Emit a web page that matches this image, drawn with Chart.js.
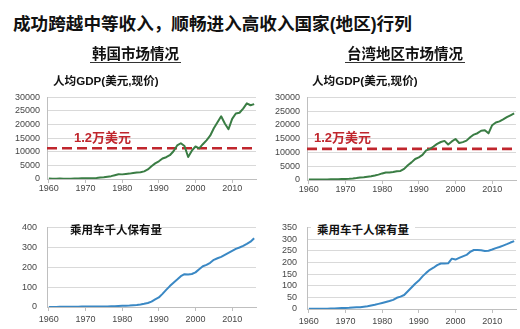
<!DOCTYPE html>
<html><head><meta charset="utf-8">
<script src="https://cdn.jsdelivr.net/npm/chart.js@4.4.1/dist/chart.umd.min.js"></script>
<style>
html,body{margin:0;padding:0;background:#fff;width:520px;height:329px;overflow:hidden;}
body{position:relative;}
canvas{position:absolute;}
.t{position:absolute;white-space:nowrap;font-family:"Liberation Sans","Noto Sans CJK SC",sans-serif;font-weight:bold;color:#111;}
.u{position:absolute;height:1px;background:#333;}
</style></head><body>
<canvas id="c1" width="260" height="110" style="left:0;top:85px"></canvas>
<canvas id="c2" width="260" height="110" style="left:260px;top:85px"></canvas>
<canvas id="c3" width="260" height="117" style="left:0;top:212px"></canvas>
<canvas id="c4" width="260" height="117" style="left:260px;top:212px"></canvas>

<div class="t" style="left:13px;top:12px;font-size:17.6px;line-height:24px;">成功跨越中等收入，顺畅进入高收入国家(地区)行列</div>
<div class="t" style="left:92px;top:45px;font-size:14.5px;line-height:18px;">韩国市场情况</div>
<div class="u" style="left:90px;top:62px;width:91px;"></div>
<div class="t" style="left:347px;top:45px;font-size:14.5px;line-height:18px;">台湾地区市场情况</div>
<div class="u" style="left:345px;top:62px;width:120px;"></div>

<div class="t" style="left:53px;top:74px;font-size:11.6px;line-height:14px;">人均GDP(美元,现价)</div>
<div class="t" style="left:312px;top:74px;font-size:11.6px;line-height:14px;">人均GDP(美元,现价)</div>
<div class="t" style="left:74px;top:130px;font-size:13px;line-height:16px;color:#c0262d;">1.2万美元</div>
<div class="t" style="left:314px;top:130px;font-size:13px;line-height:16px;color:#c0262d;">1.2万美元</div>
<div class="t" style="left:70px;top:223px;font-size:11.5px;line-height:14px;">乘用车千人保有量</div>
<div class="t" style="left:311px;top:223px;font-size:11.5px;line-height:14px;background:#fff;padding:0 6px;">乘用车千人保有量</div>

<script>
const years = [1960,1961,1962,1963,1964,1965,1966,1967,1968,1969,
  1970,1971,1972,1973,1974,1975,1976,1977,1978,1979,
  1980,1981,1982,1983,1984,1985,1986,1987,1988,1989,
  1990,1991,1992,1993,1994,1995,1996,1997,1998,1999,
  2000,2001,2002,2003,2004,2005,2006,2007,2008,2009,
  2010,2011,2012,2013,2014,2015,2016];
const xTicks = [1960,1970,1980,1990,2000,2010];
const gdpTicks = [0,5000,10000,15000,20000,25000,30000];
const koreaCarTicks = [0,100,200,300,400];
const taiwanCarTicks = [0,50,100,150,200,250,300,350];
const threshold = 11300;

const koreaGdp = [160,90,100,140,120,110,130,160,190,240,
  280,300,320,400,560,620,830,1050,1400,1770,
  1700,1870,1980,2180,2390,2460,2800,3510,4690,5740,
  6520,7520,8000,8740,10210,12330,13140,12130,8090,10410,
  11950,11250,12790,14220,15910,18640,20890,23060,20430,18290,
  22090,24080,24360,25890,27810,27110,27540];
const taiwanGdp = [160,150,160,180,200,220,240,270,300,340,
  390,440,520,700,930,980,1160,1340,1610,1950,
  2390,2720,2710,2880,3200,3310,4050,5360,6400,7640,
  8220,9120,10770,11260,12160,13130,13800,14200,12900,14000,
  14900,13450,13750,14300,15500,16500,17000,17900,18100,16950,
  19900,20900,21300,22000,22800,23500,24200];
const koreaCars = [0.5,0.5,0.6,0.7,0.7,0.7,0.9,1.2,1.6,2.0,
  1.9,2.1,2.0,2.2,2.3,2.4,2.6,3.4,4.4,5.3,
  6,6.4,7.4,8.9,10.5,13,16,20,27,38,
  48,66,86,105,122,138,155,165,163,166,
  174,190,205,212,222,237,245,252,262,272,
  282,292,299,307,317,328,345];
const taiwanCars = [1,1,1,1,1,1.5,2,2,3,4,
  4.5,5,6,7,8,10,12,15,18,22,
  26,30,34,39,48,53,60,76,92,108,
  122,140,155,168,177,188,195,195,196,216,
  212,219,226,232,245,253,253,252,249,250,
  255,261,266,272,278,285,291];

Chart.defaults.font.family = '"Liberation Sans", Arial, sans-serif';
Chart.defaults.font.size = 9;
Chart.defaults.color = '#474747';

function pts(series){ return years.map((y,i)=>({x:y, y:series[i]})); }
function flat(v){ return [{x:years[0]-0.5,y:v},{x:years[years.length-1]+0.5,y:v}]; }

function build(id, cfg){
  new Chart(document.getElementById(id), {
    type:'line',
    data:{datasets: cfg.datasets},
    options:{
      responsive:false, animation:false, devicePixelRatio:1,
      layout:{padding:{top:cfg.padTop,right:cfg.padRight,left:0,bottom:0}},
      plugins:{legend:{display:false},tooltip:{enabled:false}},
      elements:{point:{radius:0,hoverRadius:0}, line:{tension:0, borderJoinStyle:'round', borderCapStyle:'butt'}},
      scales:{
        x:{type:'linear',min:years[0]-0.5,max:years[years.length-1]+0.5,
          afterBuildTicks:s=>{s.ticks=xTicks.map(v=>({value:v}));},
          afterFit:s=>{s.height=cfg.xH;},
          grid:{drawOnChartArea:false,drawTicks:true,tickLength:4,color:'#bfbfbf'},
          border:{display:true,color:'#bfbfbf',width:1},
          ticks:{padding:cfg.xPad,maxRotation:0,autoSkip:false,callback:v=>String(v)}},
        y:{type:'linear',min:0,max:cfg.yTicks[cfg.yTicks.length-1],
          afterBuildTicks:s=>{s.ticks=cfg.yTicks.map(v=>({value:v}));},
          afterFit:s=>{s.width=cfg.yW;},
          grid:{color:'#d9d9d9',drawTicks:false},
          border:{display:true,color:'#bfbfbf'},
          ticks:{padding:cfg.yPad,autoSkip:false,callback:v=>String(v)}}
      }
    }
  });
}

const green = '#3a7d44', blue = '#3a88c4', red = '#c0262d';
function gdpSets(series){
  return [
    {data:pts(series), borderColor:green, borderWidth:2},
    {data:flat(threshold), borderColor:red, borderWidth:2.6, borderDash:[10,5]}
  ];
}
build('c1',{datasets:gdpSets(koreaGdp), yTicks:gdpTicks, padTop:6, padRight:4, xH:16, yW:47, xPad:0, yPad:7});
build('c2',{datasets:gdpSets(taiwanGdp), yTicks:gdpTicks, padTop:6, padRight:4, xH:15, yW:47, xPad:0, yPad:7});
build('c3',{datasets:[{data:pts(koreaCars), borderColor:blue, borderWidth:2}], yTicks:koreaCarTicks, padTop:7, padRight:4, xH:22, yW:47, xPad:3, yPad:10});
build('c4',{datasets:[{data:pts(taiwanCars), borderColor:blue, borderWidth:2}], yTicks:taiwanCarTicks, padTop:7, padRight:4, xH:20, yW:47, xPad:3, yPad:10});
</script>
</body></html>
